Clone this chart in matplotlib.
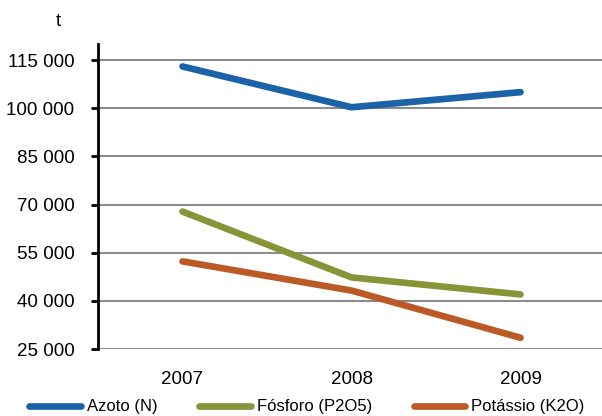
import matplotlib
matplotlib.use("Agg")
import matplotlib.pyplot as plt
from matplotlib.ticker import FuncFormatter

plt.rcParams['font.family'] = ['Liberation Sans', 'DejaVu Sans']

years = ["2007", "2008", "2009"]
azoto = [113000, 100300, 105000]
fosforo = [67800, 47300, 42000]
potassio = [52300, 43200, 28500]
series_names = ["Azoto (N)", "Fósforo (P2O5)", "Potássio (K2O)"]
colors = ["#1b62a8", "#879438", "#bb5a26"]
yticks = [25000, 40000, 55000, 70000, 85000, 100000, 115000]

fig = plt.figure(figsize=(6.02, 4.16), dpi=100)
ax = fig.add_axes([98/602, 1 - 349/416, (605-98)/602, (349-44)/416])

x = list(range(len(years)))
for vals, name, c in zip([azoto, fosforo, potassio], series_names, colors):
    ax.plot(x, vals, color=c, lw=4.8, solid_capstyle='round',
            solid_joinstyle='round', label=name, zorder=3)

ax.set_xlim(-0.5, 2.5)
ax.set_ylim(25000, 120000)
ax.set_yticks(yticks)
ax.yaxis.set_major_formatter(FuncFormatter(lambda v, p: f"{int(v):,}".replace(",", " ")))
ax.set_xticks(x)
ax.set_xticklabels(years)
ax.grid(axis='y', color='#8c8c8c', lw=1.5, zorder=1)
for s in ['top', 'right', 'bottom']:
    ax.spines[s].set_visible(False)
ax.spines['left'].set_linewidth(2)
ax.spines['left'].set_color('black')
ax.tick_params(axis='y', length=5, width=2, direction='out', labelsize=13.5, pad=12)
ax.tick_params(axis='x', length=0, labelsize=13.5, pad=16)

fig.text(58/602, 1 - 22/416, "t", fontsize=13.5, ha='center', va='center')

fig.legend(loc='center', bbox_to_anchor=(0.51, 1 - 407/416), ncol=3, frameon=False,
           fontsize=12, handlelength=3.1, handletextpad=0.35, columnspacing=2.5,
           borderaxespad=0)

fig.savefig("out.png", dpi=100)
